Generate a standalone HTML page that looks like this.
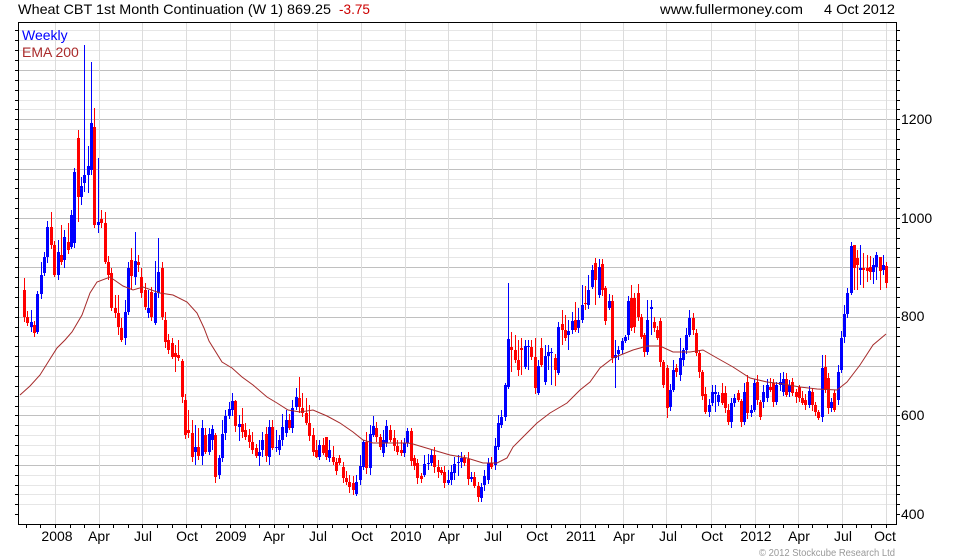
<!DOCTYPE html>
<html><head><meta charset="utf-8">
<style>
html,body{margin:0;padding:0;background:#fff;}
svg{display:block;font-family:"Liberation Sans",Arial,sans-serif;}
</style></head>
<body>
<svg id="c" width="980" height="560" viewBox="0 0 980 560">
<rect x="0" y="0" width="980" height="560" fill="#fff"/>
<g id="grid" shape-rendering="crispEdges"></g>
<g id="candles" shape-rendering="crispEdges"></g>
<g id="ema"></g>
<g id="axes" shape-rendering="crispEdges"></g>
<rect x="18.5" y="22.5" width="878" height="502" fill="none" stroke="#000" stroke-width="1" shape-rendering="crispEdges"/>
<text x="18" y="14" font-size="14" fill="#000" textLength="313" lengthAdjust="spacingAndGlyphs">Wheat CBT 1st Month Continuation (W 1) 869.25</text>
<text x="339" y="14" font-size="14" fill="#cc0000" textLength="31" lengthAdjust="spacingAndGlyphs">-3.75</text>
<text x="660" y="14" font-size="14" fill="#000" textLength="143" lengthAdjust="spacingAndGlyphs">www.fullermoney.com</text>
<text x="824" y="14" font-size="14" fill="#000" textLength="71" lengthAdjust="spacingAndGlyphs">4 Oct 2012</text>
<text x="22" y="40" font-size="14" fill="#0000ff">Weekly</text>
<text x="22" y="57" font-size="14" fill="#aa2b2b">EMA 200</text>
<g font-size="14" fill="#000">
<text x="901" y="124">1200</text>
<text x="901" y="223">1000</text>
<text x="901" y="321">800</text>
<text x="901" y="420">600</text>
<text x="901" y="519">400</text>
</g>
<g font-size="14" fill="#000" text-anchor="middle">
<text x="57" y="541">2008</text>
<text x="99" y="541">Apr</text>
<text x="143" y="541">Jul</text>
<text x="187" y="541">Oct</text>
<text x="231" y="541">2009</text>
<text x="274" y="541">Apr</text>
<text x="318" y="541">Jul</text>
<text x="362" y="541">Oct</text>
<text x="406" y="541">2010</text>
<text x="449" y="541">Apr</text>
<text x="493" y="541">Jul</text>
<text x="537" y="541">Oct</text>
<text x="581" y="541">2011</text>
<text x="624" y="541">Apr</text>
<text x="668" y="541">Jul</text>
<text x="712" y="541">Oct</text>
<text x="756" y="541">2012</text>
<text x="799" y="541">Apr</text>
<text x="843" y="541">Jul</text>
<text x="885" y="541">Oct</text>
</g>
<text x="759" y="556" font-size="10" fill="#999" textLength="136" lengthAdjust="spacingAndGlyphs">© 2012 Stockcube Research Ltd</text>
</svg>
<script>
(function(){
function Y(v){return 218-(v-1000)*0.4937;}
function XD(y,m){var d=(Date.UTC(y,m,1)-Date.UTC(2008,0,1))/86400000;return 55.3+d*0.4786;}
var g='';
for(var v=420;v<=1380;v+=20){
  var y=Math.round(Y(v))+0.5;var major=(v%100===0);
  g+='<line x1="19" x2="896" y1="'+y+'" y2="'+y+'" stroke="'+(major?'#c0c0c0':'#e6e6e6')+'"/>';
}
for(var yr=2008;yr<=2012;yr++){for(var m=0;m<12;m+=3){
  var x=Math.round(XD(yr,m))+0.5;
  if(x>19&&x<896) g+='<line x1="'+x+'" x2="'+x+'" y1="23" y2="524" stroke="#dcdcdc"/>';
}}
document.getElementById('grid').innerHTML=g;
var a='';
for(var v=400;v<=1380;v+=20){
  var y=Math.round(Y(v))+0.5;
  a+='<line x1="896" x2="900" y1="'+y+'" y2="'+y+'" stroke="#000"/>';
  a+='<line x1="15" x2="18" y1="'+y+'" y2="'+y+'" stroke="#000"/>';
}
for(var yr=2007;yr<=2012;yr++){for(var m=0;m<12;m++){
  var x=Math.round(XD(yr,m))+0.5;
  if(x>19&&x<896) a+='<line x1="'+x+'" x2="'+x+'" y1="525" y2="528" stroke="#000"/>';
}}
document.getElementById('axes').innerHTML=a;

var segs=[
{x0:24,x1:171.6,d:[
[290,317,0,278,322],[317,323,0],[322,327,1,310,332],[325,333,0],[294,332,1],[275,294,1,262],[257,273,1,252],[227,257,1],
[227,245,0,212],[245,275,0],[252,275,1,240],[255,262,0,225],[237,260,1,230,268],[242,250,0,223],[215,247,1],[172,243,1,168],
[138,197,0,130,222],[186,197,1,177,205],[175,183,1,45,192],[166,175,1,146,193],[123,170,1,62],[127,225,0,108],[222,225,1,158,233],
[219,223,0,210,228],[223,262,0,212],[262,275,0],[273,308,0],[308,313,0,295,318],[313,327,0,295,335],[328,340,0,318],
[312,338,1,300,345],[268,312,1],[260,276,0,248,290],[261,277,1,232,285],[262,265,0,255,272],[277,293,0,268],[290,307,0],
[308,313,1,290,318],[292,317,0],[293,323,1,261],[272,293,1,238],[268,317,0,262],[320,342,0,312],[340,350,0],[343,357,0]
]},
{x0:175,x1:389.7,d:[
[353,357,0,345,372],[355,358,0,340],[361,397,0],[400,435,0,394],[430,433,0,410,438],[433,457,0,420],[447,452,1,425,465],
[447,456,0,428,460],[428,456,1,420,465],[435,452,0],[434,452,1,428,455],[429,440,1,425,450],[435,477,0,433],[458,475,1,455],
[434,458,1,420,462],[416,433,1,410,440],[409,416,1,402],[401,410,1,393],[401,426,0,400,432],[424,427,1,415,441],[424,432,0,408,438],
[430,437,0],[435,442,0],[442,450,0,432],[448,456,0],[452,456,1,440,466],[440,450,1,432,457],[434,456,0],[427,457,1,420,465],
[427,448,0,420],[447,448,1,430,452],[440,450,1,435,455],[427,440,1,414],[420,433,1,410],[420,428,0,414],[408,428,1,400],
[397,407,1,388],[398,407,0,377],[408,413,0,393],[413,423,0,398],[423,436,0,405],[435,452,0,428,456],[450,457,0,440,458],
[445,457,1,440,460],[445,453,0,438],[437,457,0,437,460],[450,458,1,440,462],[457,462,0,446,465],[462,471,0],[458,463,0],
[467,478,0,462],[478,482,0],[482,487,0,475],[483,490,0,476,495],[482,494,1,475],[466,480,1,455],[442,467,1,440],[442,468,0,432],
[434,468,1,425,475],[426,435,1,416],[428,437,0,422],[437,447,0],[440,453,1,430,457],[426,443,1,420],[430,440,0,425]
]},
{x0:394,x1:595,d:[
[438,446,0,430],[446,452,0,440],[450,453,0,440,456],
[443,453,1,438],[431,443,1,428,447],[431,461,0,428],[458,466,0,455,470],[463,478,0],[476,479,0],[464,475,1,455,477],
[463,464,1,454,470],[455,463,1,450],[455,467,0,447],[467,472,0,460,478],[470,473,0],[472,483,0,466],[480,483,1,470,485],
[472,480,1,465,485],[464,473,1,457,480],[462,463,1,455,476],[458,462,1,452,468],[458,463,0,455],[459,479,0],[477,479,1,472,482],
[477,486,0],[486,497,0],[487,498,1,483,502],[476,485,1,470],[463,480,1,458],[463,467,0],[446,465,1,438],[423,447,1,415],
[417,425,1,410,428],[385,417,1],[339,387,1,283],[347,350,0,332,372],[350,360,0,335],[360,370,0,340],[348,350,0,338,375],
[346,367,1,340],[346,347,1,340,370],[347,357,0,340],[357,388,0,338],[366,393,1,360,395],[348,365,0,338],[356,382,1,345,385],
[352,356,1,345,370],[352,353,1,348,385],[358,370,0,354,386],[327,373,1,322],[324,330,0,310,345],[330,338,0,315],
[331,335,1,320,350],[321,330,1,312],[320,330,0,302],[320,328,1,308],[305,320,1,285],[303,304,0,286],[290,305,1,275],
[270,287,1,265],[263,280,0,258,305]
]},
{x0:599,x1:886,d:[
[267,295,1,259],[264,290,0,259],[288,321,0],[301,308,1],[301,358,0],[355,358,1,340,388],[350,354,1],[341,350,1],[337,341,1],
[301,335,1,296],[298,328,0,285],[298,327,0],[293,317,0,284],[317,337,0],[335,352,0],[320,352,1,300],[307,309,1,300,335],
[322,328,0],[330,338,0],[321,362,0],[362,385,0],[368,408,0,365,418],[390,407,1],[370,390,1,360],[368,372,0],[358,375,1,338,381],
[350,360,1],[335,350,1],[318,335,1,310],[318,330,0,313],[333,353,0],[353,372,0],[372,396,0],[394,412,0],[405,412,1],
[392,403,1,385],[392,394,1,385,412],[395,402,1],[393,403,0,383],[393,408,0],[410,422,0],[403,422,1],[398,403,1],[393,400,0],
[401,422,0],[392,422,1,383],[382,413,0,375],[410,413,1],[383,410,1],[382,400,0,375],[402,417,0],[392,402,1],[385,398,1],
[387,390,0,378],[383,402,0],[385,402,1],[382,385,1,373],[379,392,1],[379,395,0],[385,392,1],[382,393,0],[392,397,0],[387,398,0],
[398,403,0],[400,405,0],[391,405,1],[392,405,0],[405,412,0],[412,418,0],[368,417,1,355],[367,390,0,355],[378,408,0],[402,408,1],
[393,410,0],[372,400,1,365],[338,370,1],[314,337,1,305],[293,314,1],[246,293,1,242],[245,268,0,245,290],[258,265,0,250,290],
[268,270,1,245,285],[268,270,0,253,288],[268,271,0,255,282],[267,272,0,256,280],[265,272,1,258,284],[255,267,1,252,280],
[257,271,0,262,290],[265,270,1,255,275],[266,283,0,262,288]
]}
];
var c='';var k=0;
segs.forEach(function(s){
  var n=s.d.length;var st=(s.x1-s.x0)/(n-1);
  s.d.forEach(function(e,i){
    k++;
    var x=Math.round(s.x0+i*st);
    var top=e[0],bot=e[1];var col=e[2]?'#0000ff':'#ff0000';
    var wt=e[3]||(top-(2+(k*5)%6));var wb=e[4]||(bot+(2+(k*3)%5));
    c+='<rect x="'+x+'" y="'+wt+'" width="1" height="'+(wb-wt)+'" fill="'+col+'"/>';
    c+='<rect x="'+(x-1)+'" y="'+top+'" width="3" height="'+Math.max(1,bot-top)+'" fill="'+col+'"/>';
  });
});
document.getElementById('candles').innerHTML=c;
var pts=[[20,395],[30,386],[40,375],[50,359],[57,348],[65,340],[72,332],[82,315],[90,293],[97,282],[110,277],[123,286],[133,290],
[143,287],[160,293],[173,295],[187,302],[197,313],[204,328],[209,341],[222,362],[232,368],[242,377],[253,385],[267,397],[277,403],
[288,410],[300,412],[313,410],[327,416],[340,423],[353,432],[363,440],[373,443],[390,443],[408,443],[413,444],[433,450],[450,455],
[467,458],[483,463],[497,463],[507,458],[513,447],[527,433],[537,423],[550,413],[567,403],[580,390],[590,382],[600,368],[613,358],
[633,350],[647,346],[660,346],[673,352],[690,352],[703,350],[717,358],[733,367],[750,378],[767,382],[783,384],[800,387],[817,389],
[837,390],[847,382],[860,365],[873,345],[886,334]];
document.getElementById('ema').innerHTML='<polyline fill="none" stroke="#a52a2a" stroke-width="1" points="'+pts.map(function(p){return p[0]+','+p[1];}).join(' ')+'"/>';
})();
</script>
</body></html>
